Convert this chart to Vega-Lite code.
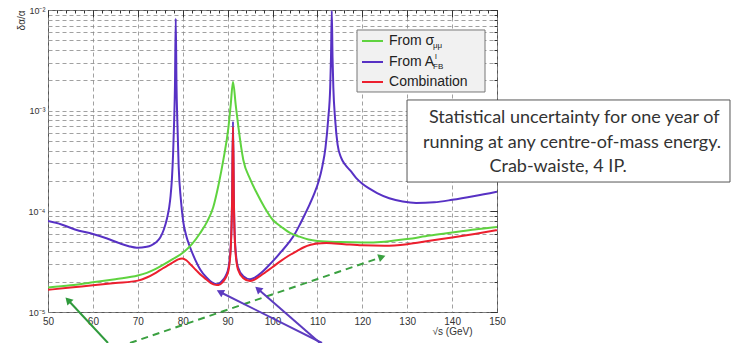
{
  "$schema": "https://vega.github.io/schema/vega-lite/v6.json",
  "width": 449,
  "height": 302,
  "autosize": "none",
  "padding": {"left": 48, "top": 10, "right": 234, "bottom": 31},
  "background": "white",
  "config": {"view": {"stroke": "#555", "strokeWidth": 1}, "font": "Liberation Sans"},
  "datasets": {
    "curves": [
      {"x": 50, "y": 8.0e-5, "s": "From A_FB"},
      {"x": 53, "y": 7.4e-5, "s": "From A_FB"},
      {"x": 56, "y": 6.6e-5, "s": "From A_FB"},
      {"x": 60, "y": 5.95e-5, "s": "From A_FB"},
      {"x": 63, "y": 5.4e-5, "s": "From A_FB"},
      {"x": 66, "y": 4.8e-5, "s": "From A_FB"},
      {"x": 68, "y": 4.5e-5, "s": "From A_FB"},
      {"x": 69.8, "y": 4.35e-5, "s": "From A_FB"},
      {"x": 72, "y": 4.45e-5, "s": "From A_FB"},
      {"x": 73, "y": 4.6e-5, "s": "From A_FB"},
      {"x": 74, "y": 4.9e-5, "s": "From A_FB"},
      {"x": 75, "y": 5.5e-5, "s": "From A_FB"},
      {"x": 75.8, "y": 6.6e-5, "s": "From A_FB"},
      {"x": 76.5, "y": 8.5e-5, "s": "From A_FB"},
      {"x": 77, "y": 1.1e-4, "s": "From A_FB"},
      {"x": 77.3, "y": 1.42e-4, "s": "From A_FB"},
      {"x": 77.6, "y": 2.1e-4, "s": "From A_FB"},
      {"x": 77.85, "y": 3.6e-4, "s": "From A_FB"},
      {"x": 78.1, "y": 8e-4, "s": "From A_FB"},
      {"x": 78.28, "y": 1.8e-3, "s": "From A_FB"},
      {"x": 78.45, "y": 8.2e-3, "s": "From A_FB"},
      {"x": 78.62, "y": 1.8e-3, "s": "From A_FB"},
      {"x": 78.8, "y": 8e-4, "s": "From A_FB"},
      {"x": 79.1, "y": 2.8e-4, "s": "From A_FB"},
      {"x": 79.6, "y": 1.3e-4, "s": "From A_FB"},
      {"x": 80.1, "y": 8.0e-5, "s": "From A_FB"},
      {"x": 80.8, "y": 5.7e-5, "s": "From A_FB"},
      {"x": 81.6, "y": 4.45e-5, "s": "From A_FB"},
      {"x": 82.8, "y": 3.3e-5, "s": "From A_FB"},
      {"x": 83.9, "y": 2.65e-5, "s": "From A_FB"},
      {"x": 85.3, "y": 2.2e-5, "s": "From A_FB"},
      {"x": 86.5, "y": 1.97e-5, "s": "From A_FB"},
      {"x": 87.6, "y": 1.89e-5, "s": "From A_FB"},
      {"x": 88.6, "y": 2.0e-5, "s": "From A_FB"},
      {"x": 89.6, "y": 2.3e-5, "s": "From A_FB"},
      {"x": 90.2, "y": 2.75e-5, "s": "From A_FB"},
      {"x": 90.7, "y": 4.6e-5, "s": "From A_FB"},
      {"x": 91.0, "y": 1.32e-4, "s": "From A_FB"},
      {"x": 91.2, "y": 7.8e-4, "s": "From A_FB"},
      {"x": 91.4, "y": 1.32e-4, "s": "From A_FB"},
      {"x": 91.7, "y": 4.6e-5, "s": "From A_FB"},
      {"x": 92.3, "y": 2.8e-5, "s": "From A_FB"},
      {"x": 93.5, "y": 2.27e-5, "s": "From A_FB"},
      {"x": 95, "y": 2.12e-5, "s": "From A_FB"},
      {"x": 96.2, "y": 2.22e-5, "s": "From A_FB"},
      {"x": 97.5, "y": 2.45e-5, "s": "From A_FB"},
      {"x": 99, "y": 2.85e-5, "s": "From A_FB"},
      {"x": 100.5, "y": 3.35e-5, "s": "From A_FB"},
      {"x": 102, "y": 4.0e-5, "s": "From A_FB"},
      {"x": 103.8, "y": 5.0e-5, "s": "From A_FB"},
      {"x": 105, "y": 6.0e-5, "s": "From A_FB"},
      {"x": 106.1, "y": 7.4e-5, "s": "From A_FB"},
      {"x": 107.2, "y": 9.3e-5, "s": "From A_FB"},
      {"x": 108.3, "y": 1.18e-4, "s": "From A_FB"},
      {"x": 109.3, "y": 1.5e-4, "s": "From A_FB"},
      {"x": 110.3, "y": 2.0e-4, "s": "From A_FB"},
      {"x": 111.1, "y": 2.8e-4, "s": "From A_FB"},
      {"x": 111.8, "y": 4.3e-4, "s": "From A_FB"},
      {"x": 112.4, "y": 8.2e-4, "s": "From A_FB"},
      {"x": 112.85, "y": 1.7e-3, "s": "From A_FB"},
      {"x": 113.03, "y": 3.4e-3, "s": "From A_FB"},
      {"x": 113.2, "y": 9.8e-3, "s": "From A_FB"},
      {"x": 113.37, "y": 3.4e-3, "s": "From A_FB"},
      {"x": 113.55, "y": 1.7e-3, "s": "From A_FB"},
      {"x": 113.95, "y": 8.2e-4, "s": "From A_FB"},
      {"x": 114.5, "y": 4.6e-4, "s": "From A_FB"},
      {"x": 115.3, "y": 3.4e-4, "s": "From A_FB"},
      {"x": 116.2, "y": 2.9e-4, "s": "From A_FB"},
      {"x": 117.3, "y": 2.55e-4, "s": "From A_FB"},
      {"x": 118.6, "y": 2.15e-4, "s": "From A_FB"},
      {"x": 120, "y": 1.88e-4, "s": "From A_FB"},
      {"x": 121.7, "y": 1.67e-4, "s": "From A_FB"},
      {"x": 123.3, "y": 1.52e-4, "s": "From A_FB"},
      {"x": 126, "y": 1.35e-4, "s": "From A_FB"},
      {"x": 129, "y": 1.25e-4, "s": "From A_FB"},
      {"x": 132, "y": 1.21e-4, "s": "From A_FB"},
      {"x": 136, "y": 1.23e-4, "s": "From A_FB"},
      {"x": 140, "y": 1.3e-4, "s": "From A_FB"},
      {"x": 145, "y": 1.42e-4, "s": "From A_FB"},
      {"x": 150, "y": 1.57e-4, "s": "From A_FB"},
      {"x": 50, "y": 1.75e-5, "s": "From sigma"},
      {"x": 55, "y": 1.84e-5, "s": "From sigma"},
      {"x": 60, "y": 1.97e-5, "s": "From sigma"},
      {"x": 65, "y": 2.12e-5, "s": "From sigma"},
      {"x": 70, "y": 2.3e-5, "s": "From sigma"},
      {"x": 72, "y": 2.45e-5, "s": "From sigma"},
      {"x": 74, "y": 2.68e-5, "s": "From sigma"},
      {"x": 76, "y": 3.0e-5, "s": "From sigma"},
      {"x": 78, "y": 3.4e-5, "s": "From sigma"},
      {"x": 80.1, "y": 3.9e-5, "s": "From sigma"},
      {"x": 82, "y": 4.7e-5, "s": "From sigma"},
      {"x": 83.9, "y": 6.1e-5, "s": "From sigma"},
      {"x": 85.5, "y": 8.0e-5, "s": "From sigma"},
      {"x": 86.8, "y": 1.1e-4, "s": "From sigma"},
      {"x": 88, "y": 1.85e-4, "s": "From sigma"},
      {"x": 89.05, "y": 3.24e-4, "s": "From sigma"},
      {"x": 90.2, "y": 6.9e-4, "s": "From sigma"},
      {"x": 90.7, "y": 1.15e-3, "s": "From sigma"},
      {"x": 91.2, "y": 1.94e-3, "s": "From sigma"},
      {"x": 91.8, "y": 1.15e-3, "s": "From sigma"},
      {"x": 92.4, "y": 6.9e-4, "s": "From sigma"},
      {"x": 93.5, "y": 3.24e-4, "s": "From sigma"},
      {"x": 95, "y": 2.1e-4, "s": "From sigma"},
      {"x": 96.5, "y": 1.52e-4, "s": "From sigma"},
      {"x": 98.2, "y": 1.1e-4, "s": "From sigma"},
      {"x": 100.1, "y": 8.2e-5, "s": "From sigma"},
      {"x": 102, "y": 7.0e-5, "s": "From sigma"},
      {"x": 103.9, "y": 6.1e-5, "s": "From sigma"},
      {"x": 106, "y": 5.6e-5, "s": "From sigma"},
      {"x": 108, "y": 5.25e-5, "s": "From sigma"},
      {"x": 110, "y": 5.08e-5, "s": "From sigma"},
      {"x": 115, "y": 4.95e-5, "s": "From sigma"},
      {"x": 120, "y": 4.9e-5, "s": "From sigma"},
      {"x": 125, "y": 5.0e-5, "s": "From sigma"},
      {"x": 130, "y": 5.3e-5, "s": "From sigma"},
      {"x": 135, "y": 5.75e-5, "s": "From sigma"},
      {"x": 140, "y": 6.15e-5, "s": "From sigma"},
      {"x": 145, "y": 6.6e-5, "s": "From sigma"},
      {"x": 150, "y": 7.0e-5, "s": "From sigma"},
      {"x": 50, "y": 1.66e-5, "s": "Combination"},
      {"x": 55, "y": 1.75e-5, "s": "Combination"},
      {"x": 60, "y": 1.84e-5, "s": "Combination"},
      {"x": 65, "y": 1.94e-5, "s": "Combination"},
      {"x": 70, "y": 2.05e-5, "s": "Combination"},
      {"x": 72, "y": 2.2e-5, "s": "Combination"},
      {"x": 74, "y": 2.45e-5, "s": "Combination"},
      {"x": 75.6, "y": 2.72e-5, "s": "Combination"},
      {"x": 77, "y": 2.95e-5, "s": "Combination"},
      {"x": 78, "y": 3.15e-5, "s": "Combination"},
      {"x": 79, "y": 3.33e-5, "s": "Combination"},
      {"x": 79.9, "y": 3.4e-5, "s": "Combination"},
      {"x": 80.8, "y": 3.27e-5, "s": "Combination"},
      {"x": 81.8, "y": 2.95e-5, "s": "Combination"},
      {"x": 83, "y": 2.6e-5, "s": "Combination"},
      {"x": 84.2, "y": 2.3e-5, "s": "Combination"},
      {"x": 85.3, "y": 2.1e-5, "s": "Combination"},
      {"x": 86.3, "y": 1.94e-5, "s": "Combination"},
      {"x": 87.3, "y": 1.86e-5, "s": "Combination"},
      {"x": 88, "y": 1.85e-5, "s": "Combination"},
      {"x": 88.8, "y": 1.96e-5, "s": "Combination"},
      {"x": 89.6, "y": 2.2e-5, "s": "Combination"},
      {"x": 90.2, "y": 2.6e-5, "s": "Combination"},
      {"x": 90.7, "y": 4.3e-5, "s": "Combination"},
      {"x": 91.0, "y": 1.25e-4, "s": "Combination"},
      {"x": 91.2, "y": 6.9e-4, "s": "Combination"},
      {"x": 91.4, "y": 1.25e-4, "s": "Combination"},
      {"x": 91.7, "y": 4.3e-5, "s": "Combination"},
      {"x": 92.3, "y": 2.65e-5, "s": "Combination"},
      {"x": 93.5, "y": 2.17e-5, "s": "Combination"},
      {"x": 95, "y": 2.03e-5, "s": "Combination"},
      {"x": 96, "y": 2.1e-5, "s": "Combination"},
      {"x": 97.2, "y": 2.27e-5, "s": "Combination"},
      {"x": 98.5, "y": 2.5e-5, "s": "Combination"},
      {"x": 99.8, "y": 2.75e-5, "s": "Combination"},
      {"x": 101.8, "y": 3.2e-5, "s": "Combination"},
      {"x": 103.5, "y": 3.6e-5, "s": "Combination"},
      {"x": 105.5, "y": 4.05e-5, "s": "Combination"},
      {"x": 107, "y": 4.4e-5, "s": "Combination"},
      {"x": 108.5, "y": 4.65e-5, "s": "Combination"},
      {"x": 110, "y": 4.8e-5, "s": "Combination"},
      {"x": 112, "y": 4.85e-5, "s": "Combination"},
      {"x": 116, "y": 4.72e-5, "s": "Combination"},
      {"x": 120, "y": 4.6e-5, "s": "Combination"},
      {"x": 125, "y": 4.55e-5, "s": "Combination"},
      {"x": 130, "y": 4.72e-5, "s": "Combination"},
      {"x": 135, "y": 5.1e-5, "s": "Combination"},
      {"x": 140, "y": 5.5e-5, "s": "Combination"},
      {"x": 145, "y": 5.95e-5, "s": "Combination"},
      {"x": 150, "y": 6.5e-5, "s": "Combination"}
    ],
    "legendBox": [{"x1": 118.82, "x2": 147.33, "y1": 6.33e-3, "y2": 1.533e-3}],
    "legendItems": [
      {"x1": 119.93, "x2": 124.61, "xt": 125.95, "y": 4.92e-3, "s": "From sigma", "label": "From σ"},
      {"x1": 119.93, "x2": 124.61, "xt": 125.95, "y": 3.045e-3, "s": "From A_FB", "label": "From A"},
      {"x1": 119.93, "x2": 124.61, "xt": 125.95, "y": 1.927e-3, "s": "Combination", "label": "Combination"}
    ],
    "legendSubs": [
      {"xt": 125.95, "y": 4.92e-3, "t": "μμ"},
      {"xt": 125.95, "y": 3.045e-3, "t": "FB"}
    ],
    "legendSups": [{"xt": 125.95, "y": 3.045e-3, "t": "l"}],
    "noteBox": [{"x1": 129.96, "x2": 201.89, "y1": 1.277e-3, "y2": 1.955e-4}],
    "noteText": [
      {"x": 167.2, "y": 8.45e-4, "t": "Statistical uncertainty for one year of"},
      {"x": 166.7, "y": 4.78e-4, "t": "running at any centre-of-mass energy."},
      {"x": 163.6, "y": 2.75e-4, "t": "Crab-waiste, 4 IP."}
    ],
    "arrows": [
      {"id": "g1", "x": 63.36, "y": 4.92e-6, "x2": 54.45, "y2": 1.315e-5},
      {"id": "g2", "x": 68.26, "y": 4.92e-6, "x2": 124.39, "y2": 3.52e-5},
      {"id": "p1", "x": 111.02, "y": 4.92e-6, "x2": 88.31, "y2": 1.58e-5},
      {"id": "p2", "x": 110.58, "y": 4.92e-6, "x2": 96.77, "y2": 1.69e-5}
    ]
  },
  "layer": [
    {
      "data": {"name": "curves"},
      "mark": {"type": "line", "strokeWidth": 2, "interpolate": "monotone", "clip": true},
      "encoding": {
        "x": {
          "field": "x", "type": "quantitative",
          "scale": {"domain": [50, 150], "nice": false, "zero": false},
          "axis": {
            "values": [50, 60, 70, 80, 90, 100, 110, 120, 130, 140, 150],
            "grid": true, "gridDash": [4, 3], "gridColor": "#8a8a8a", "gridOpacity": 0.8,
            "ticks": false, "domain": false,
            "labelFontSize": 10, "labelColor": "#333", "labelPadding": 4, "labelFlush": false,
            "title": "√s (GeV)", "titleFontSize": 10, "titleFontWeight": "normal", "titleColor": "#333",
            "titleX": 424, "titleY": 14, "titleAlign": "right", "titleBaseline": "top"
          }
        },
        "y": {
          "field": "y", "type": "quantitative",
          "scale": {"type": "log", "domain": [1e-5, 1e-2], "nice": false},
          "axis": {
            "values": [1e-5, 2e-5, 3e-5, 4e-5, 5e-5, 6e-5, 7e-5, 8e-5, 9e-5, 1e-4, 2e-4, 3e-4, 4e-4, 5e-4, 6e-4, 7e-4, 8e-4, 9e-4, 1e-3, 2e-3, 3e-3, 4e-3, 5e-3, 6e-3, 7e-3, 8e-3, 9e-3, 1e-2],
            "labelExpr": "datum.value == 1e-5 ? '10⁻⁵' : datum.value == 1e-4 ? '10⁻⁴' : datum.value == 1e-3 ? '10⁻³' : datum.value == 1e-2 ? '10⁻²' : ''",
            "grid": true, "gridDash": [4, 3], "gridColor": "#8a8a8a", "gridOpacity": 0.8,
            "ticks": false, "domain": false,
            "labelFontSize": 9, "labelColor": "#333", "labelPadding": 3,
            "title": "δα/α", "titleFontSize": 10, "titleFontWeight": "normal", "titleColor": "#333",
            "titleX": -27, "titleY": 0, "titleAngle": -90, "titleAlign": "right", "titleBaseline": "middle"
          }
        },
        "color": {
          "field": "s", "type": "nominal",
          "scale": {"domain": ["From sigma", "From A_FB", "Combination"], "range": ["#5fd33f", "#5731c4", "#ec1f2e"]},
          "legend": null
        }
      }
    },
    {
      "data": {"name": "legendBox"},
      "mark": {"type": "rect", "fill": "#f1f1f1", "stroke": "#777", "strokeWidth": 1},
      "encoding": {
        "x": {
          "field": "x1", "type": "quantitative",
          "scale": {"domain": [50, 150], "nice": false, "zero": false},
          "axis": {
            "values": [50, 52, 54, 56, 58, 60, 62, 64, 66, 68, 70, 72, 74, 76, 78, 80, 82, 84, 86, 88, 90, 92, 94, 96, 98, 100, 102, 104, 106, 108, 110, 112, 114, 116, 118, 120, 122, 124, 126, 128, 130, 132, 134, 136, 138, 140, 142, 144, 146, 148, 150],
            "tickSize": -3, "tickColor": "#333", "labels": false, "grid": false, "domain": false, "title": null
          }
        },
        "x2": {"field": "x2"},
        "y": {
          "field": "y1", "type": "quantitative",
          "scale": {"type": "log", "domain": [1e-5, 1e-2], "nice": false},
          "axis": {
            "values": [1e-5, 2e-5, 3e-5, 4e-5, 5e-5, 6e-5, 7e-5, 8e-5, 9e-5, 1e-4, 2e-4, 3e-4, 4e-4, 5e-4, 6e-4, 7e-4, 8e-4, 9e-4, 1e-3, 2e-3, 3e-3, 4e-3, 5e-3, 6e-3, 7e-3, 8e-3, 9e-3, 1e-2],
            "tickSize": -3, "tickColor": "#333", "labels": false, "grid": false, "domain": false, "title": null
          }
        },
        "y2": {"field": "y2"}
      }
    },
    {
      "data": {"name": "legendItems"},
      "mark": {"type": "rule", "strokeWidth": 2},
      "encoding": {
        "x": {"field": "x1", "type": "quantitative", "scale": {"domain": [50, 150], "nice": false, "zero": false}, "axis": null},
        "x2": {"field": "x2"},
        "y": {"field": "y", "type": "quantitative", "scale": {"type": "log", "domain": [1e-5, 1e-2], "nice": false}, "axis": null},
        "color": {"field": "s", "type": "nominal", "legend": null}
      }
    },
    {
      "data": {"name": "legendItems"},
      "mark": {"type": "text", "align": "left", "baseline": "middle", "fontSize": 14, "color": "#222"},
      "encoding": {
        "x": {"field": "xt", "type": "quantitative", "axis": null},
        "y": {"field": "y", "type": "quantitative", "axis": null},
        "text": {"field": "label"}
      }
    },
    {
      "data": {"name": "legendSubs"},
      "mark": {"type": "text", "align": "left", "baseline": "middle", "fontSize": 8, "color": "#222", "dx": 44, "dy": 5},
      "encoding": {
        "x": {"field": "xt", "type": "quantitative", "axis": null},
        "y": {"field": "y", "type": "quantitative", "axis": null},
        "text": {"field": "t"}
      }
    },
    {
      "data": {"name": "legendSups"},
      "mark": {"type": "text", "align": "left", "baseline": "middle", "fontSize": 8, "color": "#222", "dx": 46, "dy": -5},
      "encoding": {
        "x": {"field": "xt", "type": "quantitative", "axis": null},
        "y": {"field": "y", "type": "quantitative", "axis": null},
        "text": {"field": "t"}
      }
    },
    {
      "data": {"name": "noteBox"},
      "mark": {"type": "rect", "fill": "white", "stroke": "#555", "strokeWidth": 1},
      "encoding": {
        "x": {
          "field": "x1", "type": "quantitative",
          "scale": {"domain": [50, 150], "nice": false, "zero": false},
          "axis": {
            "values": [50, 60, 70, 80, 90, 100, 110, 120, 130, 140, 150],
            "tickSize": -7, "tickColor": "#333", "labels": false, "grid": false, "domain": false, "title": null
          }
        },
        "x2": {"field": "x2"},
        "y": {
          "field": "y1", "type": "quantitative",
          "scale": {"type": "log", "domain": [1e-5, 1e-2], "nice": false},
          "axis": {
            "values": [1e-5, 1e-4, 1e-3, 1e-2],
            "tickSize": -7, "tickColor": "#333", "labels": false, "grid": false, "domain": false, "title": null
          }
        },
        "y2": {"field": "y2"}
      }
    },
    {
      "data": {"name": "noteText"},
      "mark": {"type": "text", "align": "center", "baseline": "middle", "font": "Lato", "fontSize": 18, "color": "#333"},
      "encoding": {
        "x": {"field": "x", "type": "quantitative", "axis": null},
        "y": {"field": "y", "type": "quantitative", "axis": null},
        "text": {"field": "t"}
      }
    },
    {
      "data": {"name": "arrows"},
      "transform": [{"filter": "datum.id == 'g1'"}],
      "mark": {"type": "rule", "strokeWidth": 2, "color": "#2f9a3c"},
      "encoding": {
        "x": {"field": "x", "type": "quantitative", "axis": null},
        "y": {"field": "y", "type": "quantitative", "axis": null},
        "x2": {"field": "x2"},
        "y2": {"field": "y2"}
      }
    },
    {
      "data": {"name": "arrows"},
      "transform": [{"filter": "datum.id == 'g2'"}],
      "mark": {"type": "rule", "strokeWidth": 2, "color": "#3aa040", "strokeDash": [7, 5]},
      "encoding": {
        "x": {"field": "x", "type": "quantitative", "axis": null},
        "y": {"field": "y", "type": "quantitative", "axis": null},
        "x2": {"field": "x2"},
        "y2": {"field": "y2"}
      }
    },
    {
      "data": {"name": "arrows"},
      "transform": [{"filter": "datum.id == 'p1' || datum.id == 'p2'"}],
      "mark": {"type": "rule", "strokeWidth": 2, "color": "#5c3bbf"},
      "encoding": {
        "x": {"field": "x", "type": "quantitative", "axis": null},
        "y": {"field": "y", "type": "quantitative", "axis": null},
        "x2": {"field": "x2"},
        "y2": {"field": "y2"}
      }
    },
    {
      "data": {"name": "arrows"},
      "transform": [{"filter": "datum.id == 'g1'"}],
      "mark": {"type": "point", "shape": "triangle-up", "filled": true, "size": 70, "color": "#2f9a3c", "angle": 317, "opacity": 1},
      "encoding": {
        "x": {"field": "x2", "type": "quantitative", "axis": null},
        "y": {"field": "y2", "type": "quantitative", "axis": null}
      }
    },
    {
      "data": {"name": "arrows"},
      "transform": [{"filter": "datum.id == 'g2'"}],
      "mark": {"type": "point", "shape": "triangle-up", "filled": true, "size": 70, "color": "#3aa040", "angle": 71, "opacity": 1},
      "encoding": {
        "x": {"field": "x2", "type": "quantitative", "axis": null},
        "y": {"field": "y2", "type": "quantitative", "axis": null}
      }
    },
    {
      "data": {"name": "arrows"},
      "transform": [{"filter": "datum.id == 'p1'"}],
      "mark": {"type": "point", "shape": "triangle-up", "filled": true, "size": 70, "color": "#5c3bbf", "angle": 297, "opacity": 1},
      "encoding": {
        "x": {"field": "x2", "type": "quantitative", "axis": null},
        "y": {"field": "y2", "type": "quantitative", "axis": null}
      }
    },
    {
      "data": {"name": "arrows"},
      "transform": [{"filter": "datum.id == 'p2'"}],
      "mark": {"type": "point", "shape": "triangle-up", "filled": true, "size": 70, "color": "#5c3bbf", "angle": 311, "opacity": 1},
      "encoding": {
        "x": {"field": "x2", "type": "quantitative", "axis": null},
        "y": {"field": "y2", "type": "quantitative", "axis": null}
      }
    }
  ],
  "resolve": {"axis": {"x": "independent", "y": "independent"}}
}
